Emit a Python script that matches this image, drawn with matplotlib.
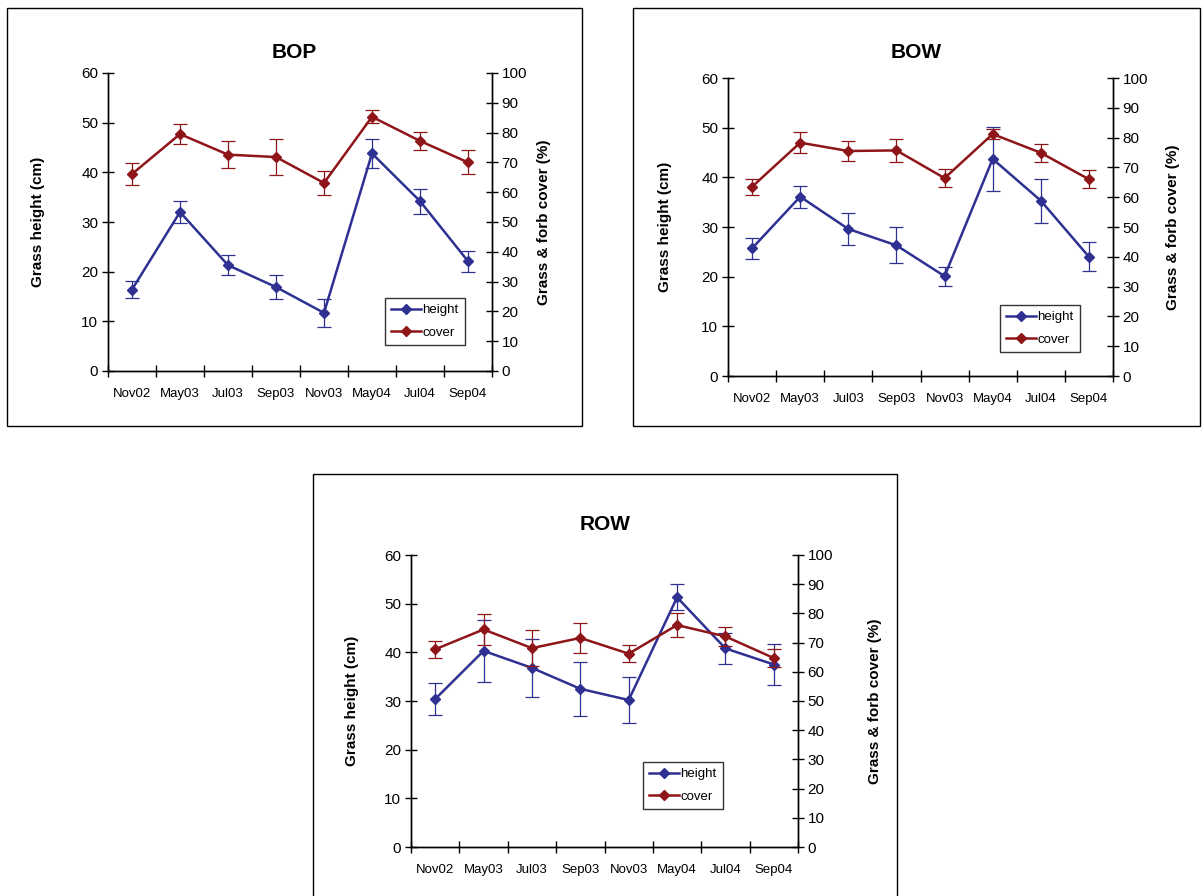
import matplotlib
matplotlib.use("Agg")
import matplotlib.pyplot as plt
from matplotlib.patches import Rectangle
import numpy as np

plt.rcParams['font.family'] = ['Liberation Sans', 'DejaVu Sans']

MONTHS = ["Nov02", "May03", "Jul03", "Sep03", "Nov03", "May04", "Jul04", "Sep04"]

# BOP
bop_height = [16.4, 32.0, 21.3, 16.9, 11.7, 43.8, 34.2, 22.1]
bop_height_err = [1.75, 2.3, 2.0, 2.4, 2.8, 3.0, 2.5, 2.1]
bop_cover = [66.1, 79.5, 72.6, 71.8, 63.1, 85.3, 77.2, 70.0]
bop_cover_err = [3.6, 3.3, 4.5, 6.1, 4.0, 2.2, 3.1, 4.0]

# BOW
bow_height = [25.7, 36.1, 29.6, 26.3, 20.1, 43.7, 35.3, 24.0]
bow_height_err = [2.1, 2.2, 3.2, 3.6, 1.9, 6.5, 4.4, 2.9]
bow_cover = [63.5, 78.3, 75.5, 75.7, 66.4, 81.2, 74.9, 66.0]
bow_cover_err = [2.6, 3.5, 3.5, 3.9, 3.1, 1.6, 3.0, 3.0]

# ROW
row_height = [30.4, 40.3, 36.8, 32.5, 30.2, 51.3, 40.8, 37.5]
row_height_err = [3.2, 6.3, 5.9, 5.5, 4.7, 2.7, 3.2, 4.3]
row_cover = [67.7, 74.5, 68.1, 71.6, 66.2, 76.0, 72.1, 64.7]
row_cover_err = [3.0, 5.4, 6.1, 5.1, 3.0, 4.1, 3.1, 3.1]

BLUE = "#2e3192"
RED = "#8e1518"
W, H = 1203, 896


def px_rect(x0, y0, x1, y1):
    """pixel box (top-left origin) -> figure fraction [l, b, w, h]"""
    return [x0 / W, 1 - y1 / H, (x1 - x0) / W, (y1 - y0) / H]


def panel(fig, title, frame, title_y, axbox, legbox, pads, height, herr, cover, cerr):
    l, b, w, h = px_rect(*frame)
    fig.patches.append(Rectangle((l, b), w, h, transform=fig.transFigure,
                                 fill=False, edgecolor="black", linewidth=1.0))
    fig.text(l + w / 2, 1 - title_y / H, title, ha="center", va="center",
             fontsize=15, fontweight="bold")

    ax = fig.add_axes(px_rect(*axbox))
    ax2 = ax.twinx()
    x = np.arange(len(MONTHS)) + 0.5

    ax.errorbar(x, height, yerr=herr, color=BLUE, lw=1.8, marker="D", ms=5,
                ecolor=BLUE, elinewidth=0.9, capsize=5, capthick=0.9, label="height")
    ax2.errorbar(x, cover, yerr=cerr, color=RED, lw=1.8, marker="D", ms=5,
                 ecolor=RED, elinewidth=0.9, capsize=5, capthick=0.9, label="cover")

    ax.set_xlim(0, len(MONTHS))
    ax.set_ylim(0, 60)
    ax2.set_ylim(0, 100)
    ax.set_yticks(range(0, 61, 10))
    ax2.set_yticks(range(0, 101, 10))
    ax.set_xticks(range(0, len(MONTHS) + 1))
    ax.set_xticklabels([])
    ax.set_xticks(x, minor=True)
    ax.set_xticklabels(MONTHS, minor=True, fontsize=9.5)
    ax.tick_params(axis="x", which="minor", length=0, pad=12)
    ax.tick_params(axis="x", which="major", direction="inout", length=8, width=1)
    ax.tick_params(axis="y", direction="inout", length=8, width=1, labelsize=11, pad=3)
    ax2.tick_params(axis="y", direction="inout", length=8, width=1, labelsize=11, pad=3)

    for a in (ax, ax2):
        a.spines["top"].set_visible(False)
        for s in ("left", "right", "bottom"):
            a.spines[s].set_linewidth(1.0)
    ax.set_ylabel("Grass height (cm)", fontsize=11, fontweight="bold", labelpad=pads[0])
    ax2.set_ylabel("Grass & forb cover (%)", fontsize=11, fontweight="bold", labelpad=pads[1])

    h1, lb1 = ax.get_legend_handles_labels()
    h2, lb2 = ax2.get_legend_handles_labels()
    handles = [hh[0] for hh in h1 + h2]
    lg = ax2.legend(handles, lb1 + lb2, loc="upper left",
                    bbox_to_anchor=((legbox[0] - axbox[0]) / (axbox[2] - axbox[0]),
                                    1 - (legbox[1] - axbox[1]) / (axbox[3] - axbox[1])),
                    fontsize=9.5, frameon=True, fancybox=False, edgecolor="black",
                    handlelength=2.3, handletextpad=0.1, borderpad=0.45,
                    labelspacing=0.8, borderaxespad=0)
    lg.get_frame().set_linewidth(1.0)


fig = plt.figure(figsize=(W / 100, H / 100), dpi=100)

panel(fig, "BOP", (7, 8, 582, 426), 52, (108, 73, 492, 371), (385, 298), (26, 7),
      bop_height, bop_height_err, bop_cover, bop_cover_err)
panel(fig, "BOW", (633, 8, 1200, 426), 53, (728, 78, 1113, 376), (1000, 305), (21, 13),
      bow_height, bow_height_err, bow_cover, bow_cover_err)
panel(fig, "ROW", (313, 474, 897, 905), 525, (411, 555, 798, 847), (643, 762), (18, 25),
      row_height, row_height_err, row_cover, row_cover_err)

fig.savefig("out.png", dpi=100)
